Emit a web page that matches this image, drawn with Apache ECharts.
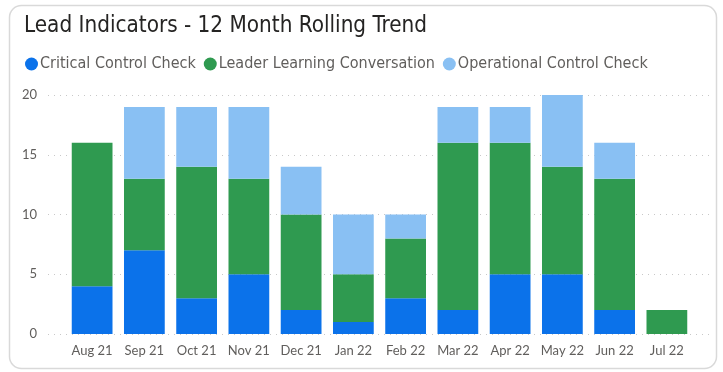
<!DOCTYPE html>
<html>
<head>
<meta charset="utf-8">
<script src="https://cdn.jsdelivr.net/npm/echarts@6/dist/echarts.min.js"></script>
<style>
  html, body { margin: 0; padding: 0; background: #ffffff; }
  #chart { width: 723px; height: 372px; }
</style>
</head>
<body>
<div id="chart"></div>
<script>
// Monthly counts of lead indicator activities
const months = ['Aug 21', 'Sep 21', 'Oct 21', 'Nov 21', 'Dec 21', 'Jan 22', 'Feb 22', 'Mar 22', 'Apr 22', 'May 22', 'Jun 22', 'Jul 22'];
const criticalControlCheck = [4, 7, 3, 5, 2, 1, 3, 2, 5, 5, 2, 0];
const leaderLearningConversation = [12, 6, 11, 8, 8, 4, 5, 14, 11, 9, 11, 2];
const operationalControlCheck = [0, 6, 5, 6, 4, 5, 2, 3, 3, 6, 3, 0];
const yTicks = { min: 0, max: 20, interval: 5 };

const FONT = 'Lato';
const NARROW = '"DejaVu Sans Condensed", "DejaVu Sans", sans-serif';
const colors = ['#0b72ea', '#2f9a50', '#89c0f3'];

const chart = echarts.init(document.getElementById('chart'), null, { renderer: 'canvas' });

const toData = arr => arr.map(v => (v === 0 ? null : v));

chart.setOption({
  animation: false,
  backgroundColor: '#ffffff',
  color: colors,
  title: {
    text: 'Lead Indicators - 12 Month Rolling Trend',
    left: 19,
    top: 10,
    textStyle: { fontFamily: NARROW, fontSize: 22.3, fontWeight: 'normal', color: '#252423' }
  },
  legend: {
    left: 20,
    top: 51,
    icon: 'circle',
    itemWidth: 13,
    itemHeight: 13,
    itemGap: 8,
    textStyle: { fontFamily: NARROW, fontSize: 16, color: '#605e5c', padding: [0, 0, 0, -3] },
    data: ['Critical Control Check', 'Leader Learning Conversation', 'Operational Control Check']
  },
  graphic: [{
    type: 'rect',
    z: -10,
    shape: { x: 9.5, y: 5.5, width: 707, height: 363, r: 12 },
    style: { fill: '#ffffff', stroke: '#d9d9d9', lineWidth: 1.5 }
  }],
  grid: [
    { left: 66, right: 30, top: 95, bottom: 38, containLabel: false },
    { left: 48, right: 13, top: 95, bottom: 38, containLabel: false }
  ],
  xAxis: [
    {
      type: 'category',
      gridIndex: 0,
      data: months,
      axisLine: { show: false },
      axisTick: { show: false },
      axisLabel: { interval: 0, fontFamily: FONT, fontSize: 13, color: '#605e5c', margin: 10 }
    },
    { type: 'value', gridIndex: 1, show: false, min: 0, max: 1 }
  ],
  yAxis: [
    {
      type: 'value',
      gridIndex: 0,
      min: yTicks.min, max: yTicks.max, interval: yTicks.interval,
      axisLabel: { show: false },
      axisLine: { show: false },
      axisTick: { show: false },
      splitLine: { show: false }
    },
    {
      type: 'value',
      gridIndex: 1,
      min: yTicks.min, max: yTicks.max, interval: yTicks.interval,
      axisLabel: { fontFamily: FONT, fontSize: 13, color: '#605e5c', margin: 11 },
      axisLine: { show: false },
      axisTick: { show: false },
      splitLine: { show: true, lineStyle: { color: '#c8c8c8', type: [1, 5], width: 1 } }
    }
  ],
  series: [
    {
      name: 'Critical Control Check', type: 'bar', stack: 'total',
      xAxisIndex: 0, yAxisIndex: 0,
      barCategoryGap: '22%',
      data: toData(criticalControlCheck)
    },
    {
      name: 'Leader Learning Conversation', type: 'bar', stack: 'total',
      xAxisIndex: 0, yAxisIndex: 0,
      barCategoryGap: '22%',
      data: toData(leaderLearningConversation)
    },
    {
      name: 'Operational Control Check', type: 'bar', stack: 'total',
      xAxisIndex: 0, yAxisIndex: 0,
      barCategoryGap: '22%',
      data: toData(operationalControlCheck)
    }
  ]
});
</script>
</body>
</html>
